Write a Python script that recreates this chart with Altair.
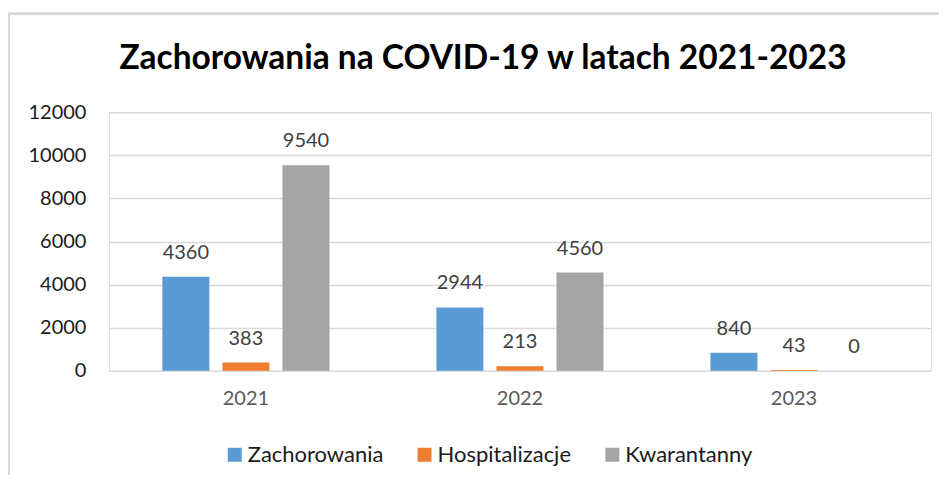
import altair as alt
import pandas as pd

years = ["2021", "2022", "2023"]
series = ["Zachorowania", "Hospitalizacje", "Kwarantanny"]
zachorowania = [4360, 2944, 840]
hospitalizacje = [383, 213, 43]
kwarantanny = [9540, 4560, 0]
colors = ["#5B9BD5", "#ED7D31", "#A5A5A5"]
y_ticks = [0, 2000, 4000, 6000, 8000, 10000, 12000]

rows = []
for name, vals in zip(series, [zachorowania, hospitalizacje, kwarantanny]):
    for yr, v in zip(years, vals):
        rows.append({"Rok": yr, "Seria": name, "Wartosc": v})
df = pd.DataFrame(rows)

x_enc = alt.X("Rok:N", sort=years, title=None,
              scale=alt.Scale(paddingInner=0.39, paddingOuter=0.195),
              axis=alt.Axis(labelAngle=0, domain=False, ticks=False,
                            labelPadding=18, labelFontSize=20,
                            labelColor="#595959", labelFont="Lato"))
xoff_enc = alt.XOffset("Seria:N", sort=series,
                       scale=alt.Scale(paddingInner=0.217, paddingOuter=0))

bars = alt.Chart(df).mark_bar().encode(
    x=x_enc,
    xOffset=xoff_enc,
    y=alt.Y("Wartosc:Q", title=None,
            scale=alt.Scale(domain=[0, 12000], nice=False),
            axis=alt.Axis(values=y_ticks, format="d", domain=False, ticks=False,
                          labelPadding=23, labelFontSize=20,
                          labelColor="#1a1a1a", labelFont="Lato",
                          gridColor="#D9D9D9", gridWidth=1.5)),
    color=alt.Color("Seria:N", sort=series,
                    scale=alt.Scale(domain=series, range=colors),
                    legend=alt.Legend(title=None, orient="none",
                                      direction="horizontal",
                                      legendX=115, legendY=332,
                                      symbolType="square", symbolSize=196,
                                      symbolStrokeWidth=0,
                                      labelFontSize=22, labelFont="Lato",
                                      labelColor="#1a1a1a", labelOffset=2,
                                      columnPadding=30, padding=0)),
)

labels = alt.Chart(df).mark_text(
    dy=-18, baseline="alphabetic", fontSize=20, font="Lato", color="#404040"
).encode(
    x=alt.X("Rok:N", sort=years),
    xOffset=alt.XOffset("Seria:N", sort=series),
    y=alt.Y("Wartosc:Q"),
    text=alt.Text("Wartosc:Q", format="d"),
)

frame_top = alt.Chart(df).mark_rule(color="#D9D9D9", strokeWidth=2).encode(
    x=alt.value(-100.5), x2=alt.value(900), y=alt.value(-98.5))
frame_left = alt.Chart(df).mark_rule(color="#D9D9D9", strokeWidth=2).encode(
    x=alt.value(-100.5), y=alt.value(-98.5), y2=alt.value(400))

chart = alt.layer(frame_top, frame_left, bars, labels).properties(
    width=823, height=259,
    autosize=alt.AutoSizeParams(type="none"),
    padding={"left": 101, "top": 104, "right": 8, "bottom": 104},
    title=alt.TitleParams("Zachorowania na COVID-19 w latach 2021-2023",
                          font="Lato", fontSize=33.5, fontWeight="bold",
                          color="#000000", anchor="middle", dx=-37, offset=-64),
).configure_view(stroke=None).configure(background="white")

chart.save("out.html", embed_options={"renderer": "svg", "actions": False})
